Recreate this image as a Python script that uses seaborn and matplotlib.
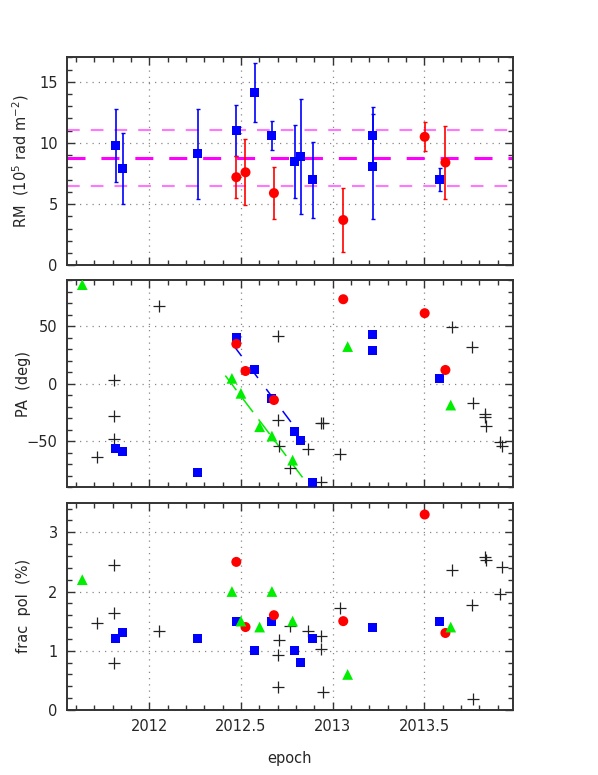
import numpy as np
import matplotlib
matplotlib.use("Agg")
import matplotlib.pyplot as plt
import seaborn as sns
from matplotlib.ticker import MultipleLocator

sns.set_style("ticks")
plt.rcParams['font.family'] = ['DejaVu Sans']

# ---------------- data ----------------
# RM panel
rm_blue_epoch = [2011.818, 2011.855, 2012.264, 2012.475, 2012.575, 2012.667,
                 2012.793, 2012.825, 2012.893, 2013.218, 2013.218, 2013.585]
rm_blue = [9.8, 7.9, 9.1, 11.0, 14.1, 10.6, 8.5, 8.9, 7.0, 10.6, 8.1, 7.0]
rm_blue_err = [3.0, 2.9, 3.7, 2.1, 2.4, 1.2, 3.0, 4.7, 3.1, 2.3, 4.3, 0.95]
rm_red_epoch = [2012.475, 2012.525, 2012.68, 2013.058, 2013.502, 2013.615]
rm_red = [7.2, 7.6, 5.9, 3.7, 10.5, 8.4]
rm_red_err = [1.7, 2.7, 2.1, 2.6, 1.2, 3.0]
rm_mean = 8.75
rm_sigma = 2.3

# PA panel
pa_blue_epoch = rm_blue_epoch
pa_blue = [-56.5, -59.1, -76.8, 40.0, 12.5, -12.8, -41.2, -49.6, -85.8, 42.9, 29.0, 4.6]
pa_red_epoch = rm_red_epoch
pa_red = [34.5, 11.0, -14.2, 73.3, 61.2, 11.9]
green_epoch = [2011.635, 2012.451, 2012.5, 2012.602, 2012.669, 2012.782, 2013.082, 2013.644]
pa_green = [86.0, 4.6, -8.4, -37.4, -45.5, -66.4, 32.2, -18.6]
pa_black_epoch = [2011.715, 2011.807, 2011.807, 2011.807, 2012.051, 2012.700, 2012.704,
                  2012.707, 2012.767, 2012.867, 2012.936, 2012.945, 2012.936, 2013.040,
                  2013.653, 2013.758, 2013.767, 2013.833, 2013.833, 2013.836, 2013.913,
                  2013.922]
pa_black = [-63.8, 3.2, -28.1, -48.4, 67.0, 41.2, -31.6, -53.9, -73.0, -57.1, -34.5,
            -34.5, -85.2, -61.2, 49.6, 31.9, -16.5, -26.4, -28.7, -36.8, -50.7, -53.9]
blue_fit_epoch = [2012.458, 2012.785]
blue_fit_pa = [33.6, -35.9]
green_fit_epoch = [2012.415, 2012.836]
green_fit_pa = [7.0, -81.4]

# fractional polarisation panel
fp_blue_epoch = [2011.818, 2011.855, 2012.264, 2012.475, 2012.575, 2012.667,
                 2012.793, 2012.825, 2012.893, 2013.218, 2013.585]
fp_blue = [1.2, 1.3, 1.2, 1.5, 1.0, 1.5, 1.0, 0.8, 1.2, 1.4, 1.5]
fp_red_epoch = rm_red_epoch
fp_red = [2.5, 1.4, 1.6, 1.5, 3.3, 1.3]
fp_green = [2.2, 2.0, 1.5, 1.4, 2.0, 1.5, 0.6, 1.4]
fp_black_epoch = [2011.715, 2011.807, 2011.807, 2011.807, 2012.051, 2012.705, 2012.704,
                  2012.700, 2012.767, 2012.867, 2012.936, 2012.936, 2012.945, 2013.040,
                  2013.653, 2013.758, 2013.767, 2013.833, 2013.838, 2013.913, 2013.922]
fp_black = [1.46, 2.44, 1.64, 0.80, 1.34, 1.18, 0.93, 0.38, 1.42, 1.33, 1.25, 1.03,
            0.31, 1.72, 2.37, 1.77, 0.18, 2.59, 2.54, 1.96, 2.41]

xticks = [2012, 2012.5, 2013, 2013.5]
xticklabels = ["2012", "2012.5", "2013", "2013.5"]

BLUE = "#0000ff"
RED = "#ff0000"
GREEN = "#00ee00"
FS = 10.5

fig = plt.figure(figsize=(5.98, 7.75), dpi=100)
L, W = 0.1115, 0.7468
ax1 = fig.add_axes([L, 0.6577, W, 0.2684])
ax2 = fig.add_axes([L, 0.3712, W, 0.2675])
ax3 = fig.add_axes([L, 0.0839, W, 0.2675])


def style(ax):
    ax.set_xlim(2011.55, 2013.985)
    ax.set_xticks(xticks)
    ax.xaxis.set_minor_locator(MultipleLocator(0.1))
    ax.tick_params(which='both', direction='in', top=True, right=True,
                   bottom=True, left=True,
                   color='#333333', labelsize=FS, pad=6.5)
    ax.tick_params(which='major', length=6, width=1.0)
    ax.tick_params(which='minor', length=3.5, width=1.0)
    for s in ax.spines.values():
        s.set_visible(True)
        s.set_color('#333333')
        s.set_linewidth(1.4)
    ax.grid(True, which='major', linestyle=(0, (1, 4)), color='#888888', lw=0.9)
    ax.set_axisbelow(True)
    ax.yaxis.set_label_coords(-0.08, 0.5)


# ---- RM panel ----
ax1.errorbar(rm_blue_epoch, rm_blue, yerr=rm_blue_err, fmt='none', ecolor=BLUE,
             elinewidth=1.2, capsize=1.5, capthick=1.0, zorder=3)
ax1.errorbar(rm_red_epoch, rm_red, yerr=rm_red_err, fmt='none', ecolor=RED,
             elinewidth=1.2, capsize=1.5, capthick=1.0, zorder=3)
ax1.axhline(rm_mean, color='#ff00ff', lw=2.2, dashes=(5.9, 5.2), zorder=2)
ax1.axhline(rm_mean + rm_sigma, color='#ff77ff', lw=1.5, dashes=(6.1, 5.3), zorder=2)
ax1.axhline(rm_mean - rm_sigma, color='#ff77ff', lw=1.5, dashes=(6.1, 5.3), zorder=2)
sns.scatterplot(x=rm_blue_epoch, y=rm_blue, marker='s', color=BLUE, s=42,
                edgecolor='none', ax=ax1, zorder=4)
sns.scatterplot(x=rm_red_epoch, y=rm_red, marker='o', color=RED, s=52,
                edgecolor='none', ax=ax1, zorder=4)
style(ax1)
ax1.set_ylim(0, 17)
ax1.set_yticks([0, 5, 10, 15])
ax1.yaxis.set_minor_locator(MultipleLocator(1))
ax1.tick_params(labelbottom=False)
ax1.set_ylabel("RM  (10$^5$ rad m$^{-2}$)", fontsize=FS)

# ---- PA panel ----
sns.lineplot(x=blue_fit_epoch, y=blue_fit_pa, color=BLUE, lw=1.1, ax=ax2, zorder=3)
ax2.lines[-1].set_dashes((9, 9))
sns.lineplot(x=green_fit_epoch, y=green_fit_pa, color=GREEN, lw=1.1, ax=ax2, zorder=3)
ax2.lines[-1].set_dashes((12, 6))
sns.scatterplot(x=pa_black_epoch, y=pa_black, marker='+', color='#222222', s=70,
                linewidth=0.9, ax=ax2, zorder=4)
sns.scatterplot(x=pa_blue_epoch, y=pa_blue, marker='s', color=BLUE, s=42,
                edgecolor='none', ax=ax2, zorder=4)
sns.scatterplot(x=pa_red_epoch, y=pa_red, marker='o', color=RED, s=52,
                edgecolor='none', ax=ax2, zorder=5)
sns.scatterplot(x=green_epoch, y=pa_green, marker='^', color=GREEN, s=60,
                edgecolor='none', ax=ax2, zorder=5)
style(ax2)
ax2.set_ylim(-90, 90)
ax2.set_yticks([-50, 0, 50])
ax2.yaxis.set_minor_locator(MultipleLocator(10))
ax2.tick_params(labelbottom=False)
ax2.set_ylabel("PA  (deg)", fontsize=FS)

# ---- frac pol panel ----
sns.scatterplot(x=fp_black_epoch, y=fp_black, marker='+', color='#222222', s=70,
                linewidth=0.9, ax=ax3, zorder=4)
sns.scatterplot(x=fp_blue_epoch, y=fp_blue, marker='s', color=BLUE, s=42,
                edgecolor='none', ax=ax3, zorder=4)
sns.scatterplot(x=fp_red_epoch, y=fp_red, marker='o', color=RED, s=52,
                edgecolor='none', ax=ax3, zorder=5)
sns.scatterplot(x=green_epoch, y=fp_green, marker='^', color=GREEN, s=60,
                edgecolor='none', ax=ax3, zorder=5)
style(ax3)
ax3.set_ylim(0, 3.5)
ax3.set_yticks([0, 1, 2, 3])
ax3.yaxis.set_minor_locator(MultipleLocator(0.2))
ax3.set_xticklabels(xticklabels)
ax3.set_ylabel("frac  pol  (%)", fontsize=FS)
ax3.set_xlabel("epoch", fontsize=FS, labelpad=12)

for ax in (ax1, ax2, ax3):
    leg = ax.get_legend()
    if leg is not None:
        leg.remove()

fig.savefig("out.png", dpi=100)
